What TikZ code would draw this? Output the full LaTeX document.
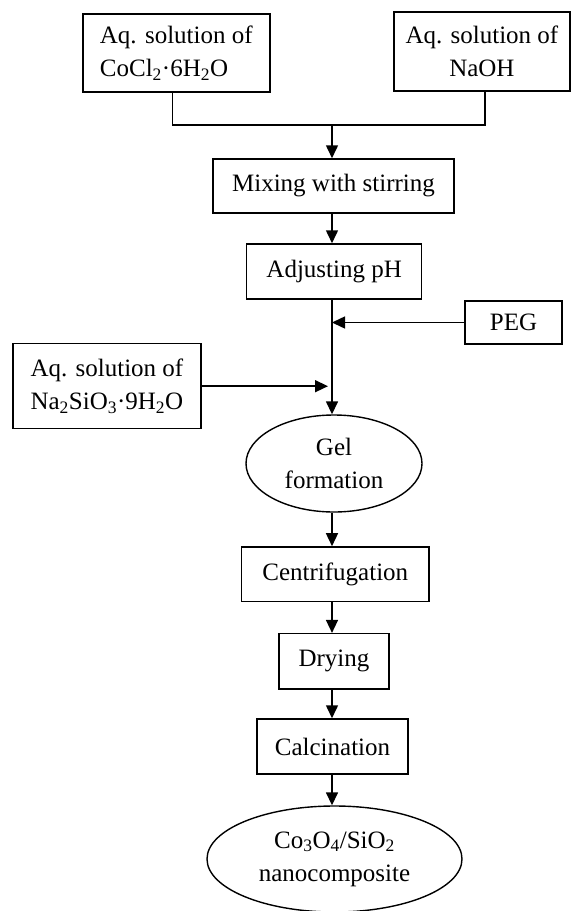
\documentclass[tikz,border=0pt]{standalone}
\usepackage{fontspec}
\setmainfont{Liberation Serif}
\usetikzlibrary{arrows.meta,shapes.geometric}
\begin{document}
\begin{tikzpicture}[x=1pt,y=-1pt,
  every node/.style={font=\fontsize{25}{33}\selectfont, inner sep=0pt},
  box/.style={draw, line width=1.5pt, rectangle},
  oval/.style={draw, line width=1.4pt, ellipse},
  conn/.style={line width=1.5pt},
  arr/.style={conn, -{Triangle[width=12pt,length=13pt]}}]
\useasboundingbox (0,0) rectangle (571,911);

\node[box, minimum width=187pt, minimum height=78pt, align=left] (co) at (176.3,53)
  {Aq. solution of\\CoCl\textsubscript{2}·6H\textsubscript{2}O};
\node[box, minimum width=176pt, minimum height=79pt, align=center] (naoh) at (481.9,51.5)
  {Aq. solution of\\NaOH};
\node[box, minimum width=241pt, minimum height=54pt] (mix) at (333.5,186) {Mixing with stirring};
\node[box, minimum width=175pt, minimum height=55pt] (adj) at (334.2,271.5) {Adjusting pH};
\node[box, minimum width=97pt, minimum height=43pt] (peg) at (513.5,322.5) {PEG};
\node[box, minimum width=187.7pt, minimum height=85pt, align=left] (na) at (106.9,386.2)
  {Aq. solution of\\Na\textsubscript{2}SiO\textsubscript{3}·9H\textsubscript{2}O};
\node[oval, minimum width=176pt, minimum height=97pt, align=center] (gel) at (334,463.5)
  {Gel\\formation};
\node[box, minimum width=187.3pt, minimum height=54.7pt] (cent) at (335.3,574.3) {Centrifugation};
\node[box, minimum width=110pt, minimum height=55.3pt] (dry) at (334,661.3) {Drying};
\node[box, minimum width=151pt, minimum height=55pt] (calc) at (332.5,746.5) {Calcination};
\node[oval, minimum width=255pt, minimum height=106pt, align=center] (fin) at (334.5,859)
  {Co\textsubscript{3}O\textsubscript{4}/SiO\textsubscript{2}\\nanocomposite};

\coordinate (j) at (332,125);
\coordinate (natip) at (328,386);

\draw[conn] ([xshift=-4pt]co.south) |- (j) -| ([xshift=3pt]naoh.south);
\draw[arr] (j) -- (mix.north -| j);
\draw[arr] (mix.south -| j) -- (adj.north -| j);
\draw[arr] (adj.south -| j) -- (gel.north -| j);
\draw[arr] (peg.west) -- (peg.west -| j);
\draw[arr] (na.east) -- (na.east -| natip);
\draw[arr] (gel.south -| j) -- (cent.north -| j);
\draw[arr] (cent.south -| j) -- (dry.north -| j);
\draw[arr] (dry.south -| j) -- (calc.north -| j);
\draw[arr] (calc.south -| j) -- (fin.north -| j);
\end{tikzpicture}
\end{document}
